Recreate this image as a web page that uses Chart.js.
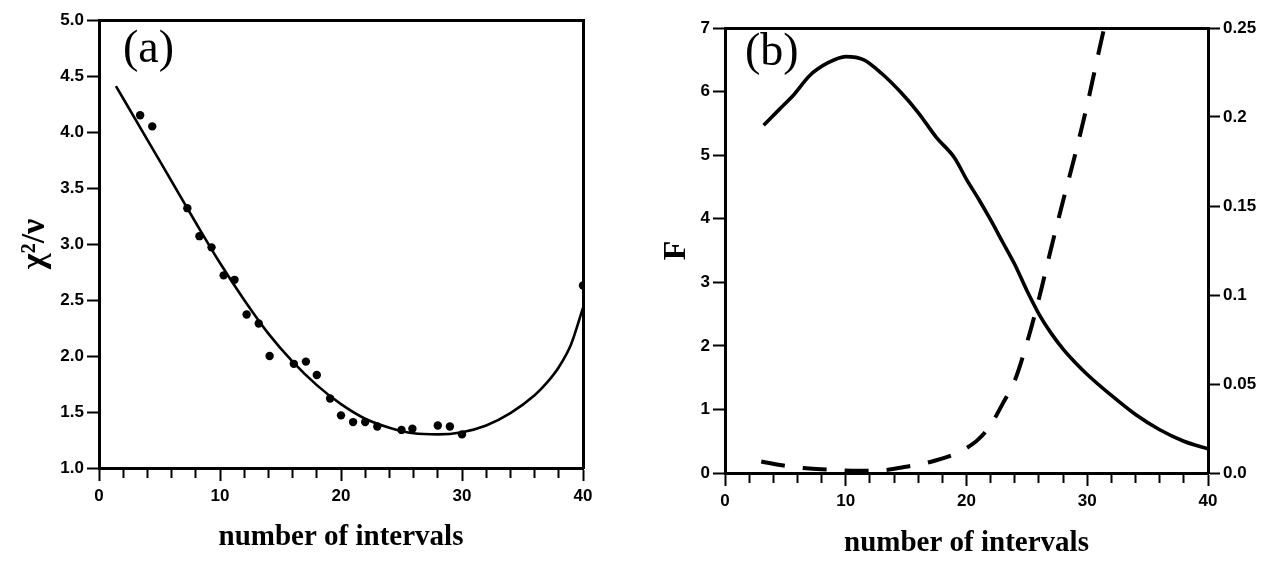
<!DOCTYPE html>
<html>
<head>
<meta charset="utf-8">
<script src="https://cdn.jsdelivr.net/npm/chart.js@4.4.1/dist/chart.umd.min.js"></script>
<style>
  html, body { margin: 0; padding: 0; background: #fff; }
  #wrap { position: relative; width: 1262px; height: 563px; }
  canvas { position: absolute; top: 0; }
  #chartA { left: 0; }
  #chartB { left: 631px; }
</style>
</head>
<body>
<div id="wrap">
  <canvas id="chartA" width="631" height="563"></canvas>
  <canvas id="chartB" width="631" height="563"></canvas>
</div>
<script>
// panel (a): measured chi^2/nu and the fitted curve
const obsX = [3.4, 4.4, 7.3, 8.3, 9.3, 10.3, 11.2, 12.2, 13.2, 14.1, 16.1, 17.1, 18, 19.1, 20, 21, 22, 23, 25, 25.9, 28, 29, 30, 40];
const obsY = [4.15, 4.05, 3.32, 3.07, 2.97, 2.72, 2.68, 2.37, 2.29, 2.00, 1.93, 1.95, 1.83, 1.62, 1.47, 1.41, 1.41, 1.37, 1.34, 1.35, 1.38, 1.37, 1.30, 2.63];
const fitX = [1.4, 4, 6, 8, 10, 12, 14, 16, 18, 20, 22, 24, 26, 28, 30, 32, 34, 36, 37, 38, 39, 40];
const fitY = [4.41, 3.93, 3.56, 3.19, 2.83, 2.50, 2.20, 1.95, 1.74, 1.57, 1.44, 1.36, 1.31, 1.30, 1.32, 1.38, 1.49, 1.65, 1.76, 1.90, 2.10, 2.43];

// panel (b): F (left axis) and the dashed curve (right axis)
const fX = [3.2, 4.5, 5.7, 7, 8.5, 10, 11.5, 13, 14.5, 16, 17.5, 19, 20, 21, 22, 23, 24, 25, 26, 27, 28, 29, 30, 32, 34, 36, 38, 40];
const fY = [5.47, 5.72, 5.95, 6.25, 6.45, 6.55, 6.50, 6.28, 6.00, 5.67, 5.28, 4.96, 4.62, 4.31, 3.98, 3.63, 3.28, 2.87, 2.50, 2.20, 1.95, 1.74, 1.55, 1.22, 0.92, 0.68, 0.50, 0.38];
const pX = [3, 5, 7, 9, 11, 13, 15, 17, 19, 20, 21, 22, 23, 24, 25, 26, 27, 28, 29, 30, 31, 31.4];
const pY = [0.0065, 0.004, 0.0025, 0.0018, 0.0012, 0.0015, 0.0035, 0.0062, 0.0105, 0.014, 0.019, 0.027, 0.039, 0.052, 0.073, 0.098, 0.126, 0.153, 0.179, 0.207, 0.238, 0.25];
const rightTicks = ['0.0', '0.05', '0.1', '0.15', '0.2', '0.25'];

const pts = (xs, ys) => xs.map((x, i) => ({ x: x, y: ys[i] }));

const tickFont = { family: '"Liberation Sans", Arial, sans-serif', weight: 'bold', size: 17 };
const titleFont = { family: '"Liberation Serif", "Times New Roman", serif', weight: 'bold', size: 29 };

// "(a)" / "(b)" inside the plot
const panelLabel = {
  id: 'panelLabel',
  afterDraw(chart, args, opts) {
    const ctx = chart.ctx;
    ctx.save();
    ctx.font = '46px "Liberation Serif", "Times New Roman", serif';
    ctx.fillStyle = '#000';
    ctx.textBaseline = 'alphabetic';
    ctx.fillText(opts.text, opts.x, opts.y);
    ctx.restore();
  }
};

const xAxis = (h, titlePad) => ({
  type: 'linear', position: 'bottom', min: 0, max: 40,
  afterFit: s => { s.height = h; },
  ticks: {
    stepSize: 2, autoSkip: false, maxRotation: 0, padding: 5, color: '#000', font: tickFont,
    callback: v => (v % 10 === 0 ? String(v) : '')
  },
  grid: {
    drawOnChartArea: false, tickLength: 13, tickWidth: 2, tickColor: '#000',
    tickBorderDash: c => (c.tick && c.tick.value % 10 === 0 ? [] : [8, 40])
  },
  border: { color: '#000', width: 3 },
  title: { display: true, text: 'number of intervals', color: '#000', font: titleFont, padding: { top: 0, bottom: titlePad } }
});

const frame = (pos, size) => ({
  type: 'linear', position: pos, min: 0, max: 1,
  afterFit: s => { if (pos === 'top') s.height = size; else s.width = size; },
  ticks: { display: false },
  grid: { display: false },
  border: { color: '#000', width: 3 }
});

Chart.defaults.color = '#000';
Chart.defaults.animation = false;

new Chart(document.getElementById('chartA'), {
  type: 'scatter',
  data: {
    datasets: [
      {
        data: pts(obsX, obsY), showLine: false,
        pointRadius: 4.2, pointBackgroundColor: '#000', pointBorderWidth: 0
      },
      {
        data: pts(fitX, fitY), showLine: true, pointRadius: 0,
        borderColor: '#000', borderWidth: 2.6, cubicInterpolationMode: 'monotone'
      }
    ]
  },
  options: {
    responsive: false,
    plugins: { legend: { display: false }, tooltip: { enabled: false }, panelLabel: { text: '(a)', x: 123, y: 62 } },
    layout: { padding: 0 },
    scales: {
      x: xAxis(95, 8),
      x2: frame('top', 20),
      y: {
        type: 'linear', position: 'left', min: 1, max: 5,
        afterFit: s => { s.width = 99; },
        ticks: { stepSize: 0.5, padding: 3, color: '#000', font: tickFont, callback: v => v.toFixed(1) },
        grid: { drawOnChartArea: false, tickLength: 12, tickWidth: 2, tickColor: '#000' },
        border: { color: '#000', width: 3 },
        title: {
          display: true, text: 'χ²/ν', color: '#000', padding: { top: 15, bottom: 0 },
          font: { family: '"Liberation Serif", "Times New Roman", serif', weight: 'bold', size: 34 }
        }
      },
      y2: frame('right', 48)
    }
  },
  plugins: [panelLabel]
});

new Chart(document.getElementById('chartB'), {
  type: 'scatter',
  data: {
    datasets: [
      {
        data: pts(fX, fY), yAxisID: 'y', showLine: true, pointRadius: 0,
        borderColor: '#000', borderWidth: 3.6, cubicInterpolationMode: 'monotone'
      },
      {
        data: pts(pX, pY), yAxisID: 'y2', showLine: true, pointRadius: 0,
        borderColor: '#000', borderWidth: 4, borderDash: [24, 18], cubicInterpolationMode: 'monotone'
      }
    ]
  },
  options: {
    responsive: false,
    plugins: { legend: { display: false }, tooltip: { enabled: false }, panelLabel: { text: '(b)', x: 114, y: 65 } },
    layout: { padding: 0 },
    scales: {
      x: xAxis(90, 2),
      x2: frame('top', 28),
      y: {
        type: 'linear', position: 'left', min: 0, max: 7,
        afterFit: s => { s.width = 94; },
        ticks: { stepSize: 1, padding: 3, color: '#000', font: tickFont },
        grid: { drawOnChartArea: false, tickLength: 12, tickWidth: 2, tickColor: '#000' },
        border: { color: '#000', width: 3 },
        title: {
          display: true, text: 'F', color: '#000', padding: { top: 27, bottom: 0 },
          font: { family: '"Liberation Serif", "Times New Roman", serif', weight: 'bold', size: 32 }
        }
      },
      y2: {
        type: 'linear', position: 'right', min: 0, max: 0.25,
        afterFit: s => { s.width = 54; },
        ticks: { stepSize: 0.05, padding: 3, color: '#000', font: tickFont, callback: (v, i) => rightTicks[i] ?? '' },
        grid: { drawOnChartArea: false, tickLength: 12, tickWidth: 2, tickColor: '#000' },
        border: { color: '#000', width: 3 }
      }
    }
  },
  plugins: [panelLabel]
});
</script>
</body>
</html>
